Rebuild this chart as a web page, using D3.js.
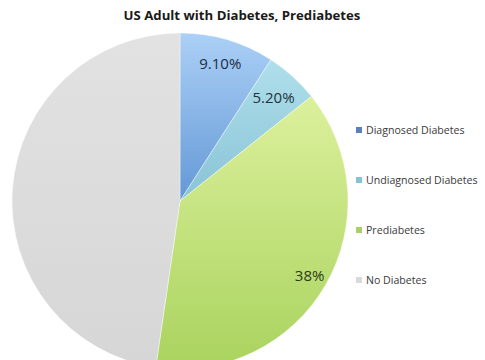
<!DOCTYPE html>
<html>
<head>
<meta charset="utf-8">
<script src="https://cdn.jsdelivr.net/npm/d3@7"></script>
<style>
  html, body { margin: 0; padding: 0; background: #ffffff; }
  svg { display: block; }
</style>
</head>
<body>
<svg id="chart" width="485" height="360"></svg>
<script>
const categories = ["Diagnosed Diabetes", "Undiagnosed Diabetes", "Prediabetes", "No Diabetes"];
const values = [9.1, 5.2, 38, 47.7];
const sliceLabels = ["9.10%", "5.20%", "38%", ""];
const title = "US Adult with Diabetes, Prediabetes";

const topColors = ["#acd0f6", "#b0dfeb", "#dcf09c", "#e2e2e2"];
const bottomColors = ["#6398d6", "#88c3d6", "#a9d35e", "#d6d6d6"];
const legendColors = ["#5b80c0", "#86c4d4", "#a8cf68", "#d9d9d9"];
const labelColors = ["#1b2c44", "#1d3340", "#2a3a18", "#333333"];
const labelRadius = [0.85, 0.83, 0.89, 0.8];

const svg = d3.select("#chart");
const cx = 180, cy = 201, R = 168;

const defs = svg.append("defs");
categories.forEach((c, i) => {
  const g = defs.append("linearGradient")
    .attr("id", "grad" + i)
    .attr("x1", 0).attr("y1", 0).attr("x2", 0).attr("y2", 1);
  g.append("stop").attr("offset", "0%").attr("stop-color", topColors[i]);
  g.append("stop").attr("offset", "100%").attr("stop-color", bottomColors[i]);
});

svg.append("text")
  .attr("x", 242).attr("y", 20)
  .attr("text-anchor", "middle")
  .attr("font-family", "Open Sans, sans-serif")
  .attr("font-weight", "bold")
  .attr("font-size", 13.2)
  .attr("fill", "#1a1a1a")
  .text(title);

const pie = d3.pie().sort(null).value(d => d.v);
const data = categories.map((c, i) => ({ c, v: values[i], label: sliceLabels[i], i }));
const arcs = pie(data);
const arc = d3.arc().innerRadius(0).outerRadius(R);

const g = svg.append("g").attr("transform", `translate(${cx},${cy})`);
g.selectAll("path.slice")
  .data(arcs)
  .enter().append("path")
  .attr("class", "slice")
  .attr("d", arc)
  .attr("fill", d => `url(#grad${d.data.i})`)
  .attr("stroke", "#ffffff")
  .attr("stroke-width", 0.4);

g.selectAll("text.lbl")
  .data(arcs.filter(d => d.data.label))
  .enter().append("text")
  .attr("class", "lbl")
  .attr("transform", d => {
    const r = R * labelRadius[d.data.i];
    return `translate(${d3.arc().innerRadius(r).outerRadius(r).centroid(d)})`;
  })
  .attr("text-anchor", "middle")
  .attr("dy", "0.35em")
  .attr("font-family", "Open Sans, sans-serif")
  .attr("font-size", 15)
  .attr("fill", d => labelColors[d.data.i])
  .text(d => d.data.label);

const legendY = d3.scalePoint().domain(categories).range([130, 280]);
const lg = svg.append("g");
categories.forEach((c, i) => {
  lg.append("rect")
    .attr("x", 356).attr("y", legendY(c) - 3)
    .attr("width", 6).attr("height", 6)
    .attr("fill", legendColors[i]);
  lg.append("text")
    .attr("x", 366).attr("y", legendY(c))
    .attr("dy", "0.35em")
    .attr("font-family", "Open Sans, sans-serif")
    .attr("font-size", 10.6)
    .attr("fill", "#3a3a3a")
    .text(c);
});
</script>
</body>
</html>
